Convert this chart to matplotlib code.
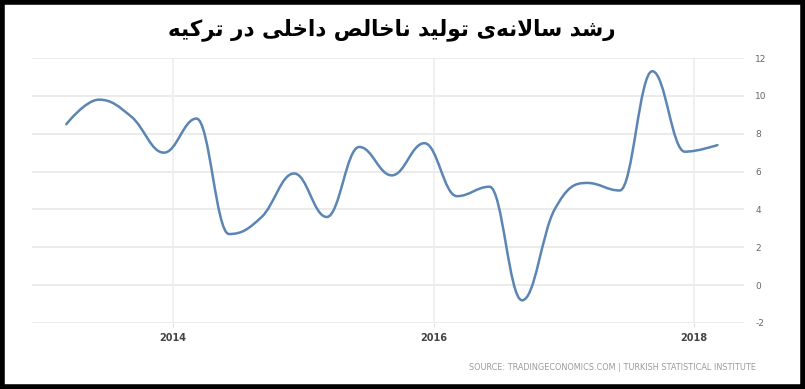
import matplotlib
matplotlib.use("Agg")
import matplotlib.pyplot as plt
from matplotlib.path import Path
from matplotlib.patches import PathPatch, Rectangle

# Turkey, GDP annual growth rate (%), quarterly
quarters = ["2013Q1", "2013Q2", "2013Q3", "2013Q4",
            "2014Q1", "2014Q2", "2014Q3", "2014Q4",
            "2015Q1", "2015Q2", "2015Q3", "2015Q4",
            "2016Q1", "2016Q2", "2016Q3", "2016Q4",
            "2017Q1", "2017Q2", "2017Q3", "2017Q4",
            "2018Q1"]
growth = [8.5, 9.8, 8.9, 7.0,
          8.8, 2.7, 3.6, 5.9,
          3.6, 7.3, 5.8, 7.5,
          4.7, 5.2, -0.8, 4.0,
          5.4, 5.0, 11.3, 7.05,
          7.4]
year_ticks = [2014, 2016, 2018]
y_ticks = [-2, 0, 2, 4, 6, 8, 10, 12]

title = "رشد سالانه‌ی تولید ناخالص داخلی در ترکیه"
source = "SOURCE: TRADINGECONOMICS.COM | TURKISH STATISTICAL INSTITUTE"

# ---------------------------------------------------------------------------
# Minimal Arabic-script shaping (contextual forms + RTL order) for matplotlib
FORMS = {  # isolated, final, initial, medial
    "ا": ("\uFE8D", "\uFE8E", None, None),
    "ت": ("\uFE95", "\uFE96", "\uFE97", "\uFE98"),
    "خ": ("\uFEA5", "\uFEA6", "\uFEA7", "\uFEA8"),
    "د": ("\uFEA9", "\uFEAA", None, None),
    "ر": ("\uFEAD", "\uFEAE", None, None),
    "س": ("\uFEB1", "\uFEB2", "\uFEB3", "\uFEB4"),
    "ش": ("\uFEB5", "\uFEB6", "\uFEB7", "\uFEB8"),
    "ص": ("\uFEB9", "\uFEBA", "\uFEBB", "\uFEBC"),
    "ل": ("\uFEDD", "\uFEDE", "\uFEDF", "\uFEE0"),
    "ن": ("\uFEE5", "\uFEE6", "\uFEE7", "\uFEE8"),
    "ه": ("\uFEE9", "\uFEEA", "\uFEEB", "\uFEEC"),
    "و": ("\uFEED", "\uFEEE", None, None),
    "ی": ("\uFBFC", "\uFBFD", "\uFBFE", "\uFBFF"),
    "ک": ("\uFB8E", "\uFB8F", "\uFB90", "\uFB91"),
}
LAM_ALEF = ("\uFEFB", "\uFEFC")


def joins_left(ch):
    f = FORMS.get(ch)
    return f is not None and f[2] is not None


def shape(text):
    chars = list(text)
    out = []
    i = 0
    while i < len(chars):
        ch = chars[i]
        prev = chars[i - 1] if i > 0 else None
        joined_prev = prev is not None and joins_left(prev) and ch in FORMS
        if ch == "ل" and i + 1 < len(chars) and chars[i + 1] == "ا":
            out.append(LAM_ALEF[1] if joined_prev else LAM_ALEF[0])
            i += 2
            continue
        if ch not in FORMS:
            if ch != "\u200c":
                out.append(ch)
            i += 1
            continue
        nxt = chars[i + 1] if i + 1 < len(chars) else None
        joined_next = joins_left(ch) and nxt in FORMS
        iso, fin, ini, med = FORMS[ch]
        if joined_prev and joined_next:
            out.append(med)
        elif joined_prev:
            out.append(fin)
        elif joined_next:
            out.append(ini)
        else:
            out.append(iso)
        i += 1
    return "".join(reversed(out))


# ---------------------------------------------------------------------------
def quarter_pos(q):
    year, qn = int(q[:4]), int(q[-1])
    return year + (qn - 1) * 0.25 + 0.18


def spline_path(xs, ys, smoothing=1.5):
    """Smooth Bezier path through the points (Highcharts-style spline)."""
    n = len(xs)
    left = [(x, y) for x, y in zip(xs, ys)]
    right = [(x, y) for x, y in zip(xs, ys)]
    d = smoothing + 1
    for i in range(1, n - 1):
        x, y = xs[i], ys[i]
        lx, ly = xs[i - 1], ys[i - 1]
        nx, ny = xs[i + 1], ys[i + 1]
        lcx, lcy = (smoothing * x + lx) / d, (smoothing * y + ly) / d
        rcx, rcy = (smoothing * x + nx) / d, (smoothing * y + ny) / d
        corr = (rcy - lcy) * (rcx - x) / (rcx - lcx) + y - rcy
        lcy += corr
        rcy += corr
        if lcy > ly and lcy > y:
            lcy = max(ly, y)
            rcy = 2 * y - lcy
        elif lcy < ly and lcy < y:
            lcy = min(ly, y)
            rcy = 2 * y - lcy
        if rcy > ny and rcy > y:
            rcy = max(ny, y)
            lcy = 2 * y - rcy
        elif rcy < ny and rcy < y:
            rcy = min(ny, y)
            lcy = 2 * y - rcy
        left[i] = (lcx, lcy)
        right[i] = (rcx, rcy)
    verts = [(xs[0], ys[0])]
    codes = [Path.MOVETO]
    for i in range(n - 1):
        verts += [right[i], left[i + 1], (xs[i + 1], ys[i + 1])]
        codes += [Path.CURVE4] * 3
    return Path(verts, codes)


xs = [quarter_pos(q) for q in quarters]

fig = plt.figure(figsize=(8.05, 3.89), dpi=100)
fig.patch.set_facecolor("white")
ax = fig.add_axes([32 / 805, 66 / 389, 712 / 805, 265 / 389])

ax.set_xlim(2012.917, 2018.384)
ax.set_ylim(-2, 12)

grid_color = "#e8e8e8"
for yv in y_ticks:
    ax.axhline(yv, color=grid_color, lw=1.2, zorder=1)
for xv in year_ticks:
    ax.axvline(xv, color="#eeeeee", lw=1.2, zorder=1)

ax.add_patch(PathPatch(spline_path(xs, growth), facecolor="none",
                       edgecolor="#5b85b2", lw=1.8, zorder=3,
                       capstyle="round", joinstyle="round"))

for s in ax.spines.values():
    s.set_visible(False)
ax.set_facecolor("none")

ax.set_xticks(year_ticks)
ax.set_xticklabels([str(y) for y in year_ticks], fontsize=7, color="#444444",
                   fontweight="bold")
ax.tick_params(axis="x", length=3, color="#dddddd", pad=4)

ax.yaxis.tick_right()
ax.set_yticks(y_ticks)
ax.set_yticklabels([str(v) for v in y_ticks], fontsize=6.5, color="#666666")
ax.tick_params(axis="y", length=0, pad=8)

fig.text(392 / 805, 1 - 30 / 389, shape(title), ha="center", va="center",
         fontsize=15.5, fontweight="bold", color="black",
         family=["DejaVu Sans"])

fig.text(756 / 805, 1 - 368 / 389, source, ha="right", va="center",
         fontsize=5.9, color="#9a9a9a")

# black frame around the whole figure
fig.patches.append(Rectangle((0.003, 0.006), 0.994, 0.988,
                             transform=fig.transFigure, fill=False,
                             edgecolor="black", lw=4.0, zorder=10))

fig.savefig("out.png", dpi=100, facecolor="white")
